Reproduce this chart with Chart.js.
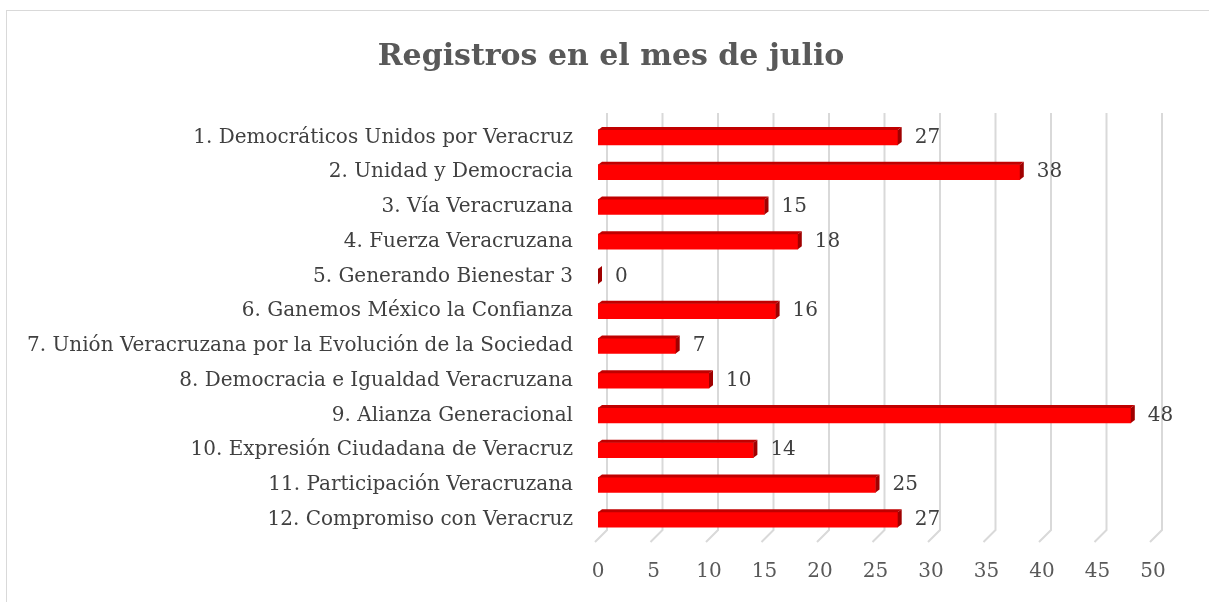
<!DOCTYPE html>
<html lang="es">
<head>
  <meta charset="UTF-8" />
  <title>Registros en el mes de julio</title>
  <script src="https://cdn.jsdelivr.net/npm/chart.js"></script>
  <style>
    body { margin: 0; background: #fff; overflow: hidden; }
    #frame { position: absolute; left: 6px; top: 10px; width: 1220px; height: 620px; border: 1px solid #d9d9d9; }
    #chart { position: absolute; left: 0; top: 0; }
  </style>
</head>
<body>
  <div id="frame"></div>
  <canvas id="chart" width="1209" height="602"></canvas>

  <script>
    const categories = [
      '1. Democráticos Unidos por Veracruz',
      '2. Unidad y Democracia',
      '3. Vía Veracruzana',
      '4. Fuerza Veracruzana',
      '5. Generando Bienestar 3',
      '6. Ganemos México la Confianza',
      '7. Unión Veracruzana por la Evolución de la Sociedad',
      '8. Democracia e Igualdad Veracruzana',
      '9. Alianza Generacional',
      '10. Expresión Ciudadana de Veracruz',
      '11. Participación Veracruzana',
      '12. Compromiso con Veracruz'
    ];
    const registros = [27, 38, 15, 18, 0, 16, 7, 10, 48, 14, 25, 27];
    const xTicks = [0, 5, 10, 15, 20, 25, 30, 35, 40, 45, 50];
    const titulo = 'Registros en el mes de julio';

    const serif = "'DejaVu Serif', 'Liberation Serif', serif";

    // title centred on the whole frame, not on the plot
    const titlePlugin = {
      id: 'frameTitle',
      afterDraw(chart) {
        const { ctx } = chart;
        ctx.save();
        ctx.fillStyle = '#595959';
        ctx.font = 'bold 30px ' + serif;
        ctx.textAlign = 'center';
        ctx.textBaseline = 'middle';
        ctx.fillText(titulo, 611, 57);
        ctx.restore();
      }
    };

    // gridlines on the back wall, with a short floor stroke toward the front
    const backGrid = {
      id: 'backGrid',
      beforeDatasetsDraw(chart) {
        const { ctx, chartArea } = chart;
        const xs = chart.scales.x;
        ctx.save();
        ctx.strokeStyle = '#d9d9d9';
        ctx.lineWidth = 2;
        xTicks.forEach(v => {
          const xb = xs.getPixelForValue(v) + 9;
          ctx.beginPath();
          ctx.moveTo(xb, chartArea.top - 7);
          ctx.lineTo(xb, chartArea.bottom - 7);
          ctx.lineTo(xb - 12, chartArea.bottom + 5);
          ctx.stroke();
        });
        ctx.restore();
      }
    };

    // top + end faces of the bars and the value labels
    const depth3d = {
      id: 'depth3d',
      afterDatasetsDraw(chart) {
        const { ctx } = chart;
        const meta = chart.getDatasetMeta(0);
        const dx = 4, dy = 3;
        ctx.save();
        meta.data.forEach((bar, i) => {
          const { x, y, base, height } = bar.getProps(['x', 'y', 'base', 'height'], true);
          const top = y - height / 2, bottom = y + height / 2;

          ctx.fillStyle = '#c00000';
          ctx.beginPath();
          ctx.moveTo(base, top);
          ctx.lineTo(base + dx, top - dy);
          ctx.lineTo(x + dx, top - dy);
          ctx.lineTo(x, top);
          ctx.closePath();
          ctx.fill();

          ctx.fillStyle = '#a00000';
          ctx.beginPath();
          ctx.moveTo(x, top);
          ctx.lineTo(x + dx, top - dy);
          ctx.lineTo(x + dx, bottom - dy);
          ctx.lineTo(x, bottom);
          ctx.closePath();
          ctx.fill();

          ctx.fillStyle = '#404040';
          ctx.font = '20px ' + serif;
          ctx.textAlign = 'left';
          ctx.textBaseline = 'middle';
          ctx.fillText(String(registros[i]), x + dx + 13, y);
        });
        ctx.restore();
      }
    };

    new Chart(document.getElementById('chart'), {
      type: 'bar',
      data: {
        labels: categories,
        datasets: [{
          data: registros,
          backgroundColor: '#ff0000',
          borderWidth: 0,
          barThickness: 15
        }]
      },
      options: {
        indexAxis: 'y',
        responsive: false,
        animation: false,
        layout: { padding: { left: 0, right: 56, top: 120, bottom: 0 } },
        plugins: {
          legend: { display: false },
          tooltip: { enabled: false },
          title: { display: false }
        },
        scales: {
          x: {
            min: 0,
            max: 50,
            afterBuildTicks: s => { s.ticks = xTicks.map(v => ({ value: v })); },
            afterFit: s => { s.height = 65; },
            grid: { display: false, drawTicks: false },
            border: { display: false },
            ticks: { color: '#595959', padding: 23, font: { family: serif, size: 20 } }
          },
          y: {
            afterFit: s => { s.width = 598; },
            grid: { display: false, drawTicks: false },
            border: { display: false },
            ticks: { color: '#404040', padding: 25, font: { family: serif, size: 20 } }
          }
        }
      },
      plugins: [backGrid, depth3d, titlePlugin]
    });
  </script>
</body>
</html>
